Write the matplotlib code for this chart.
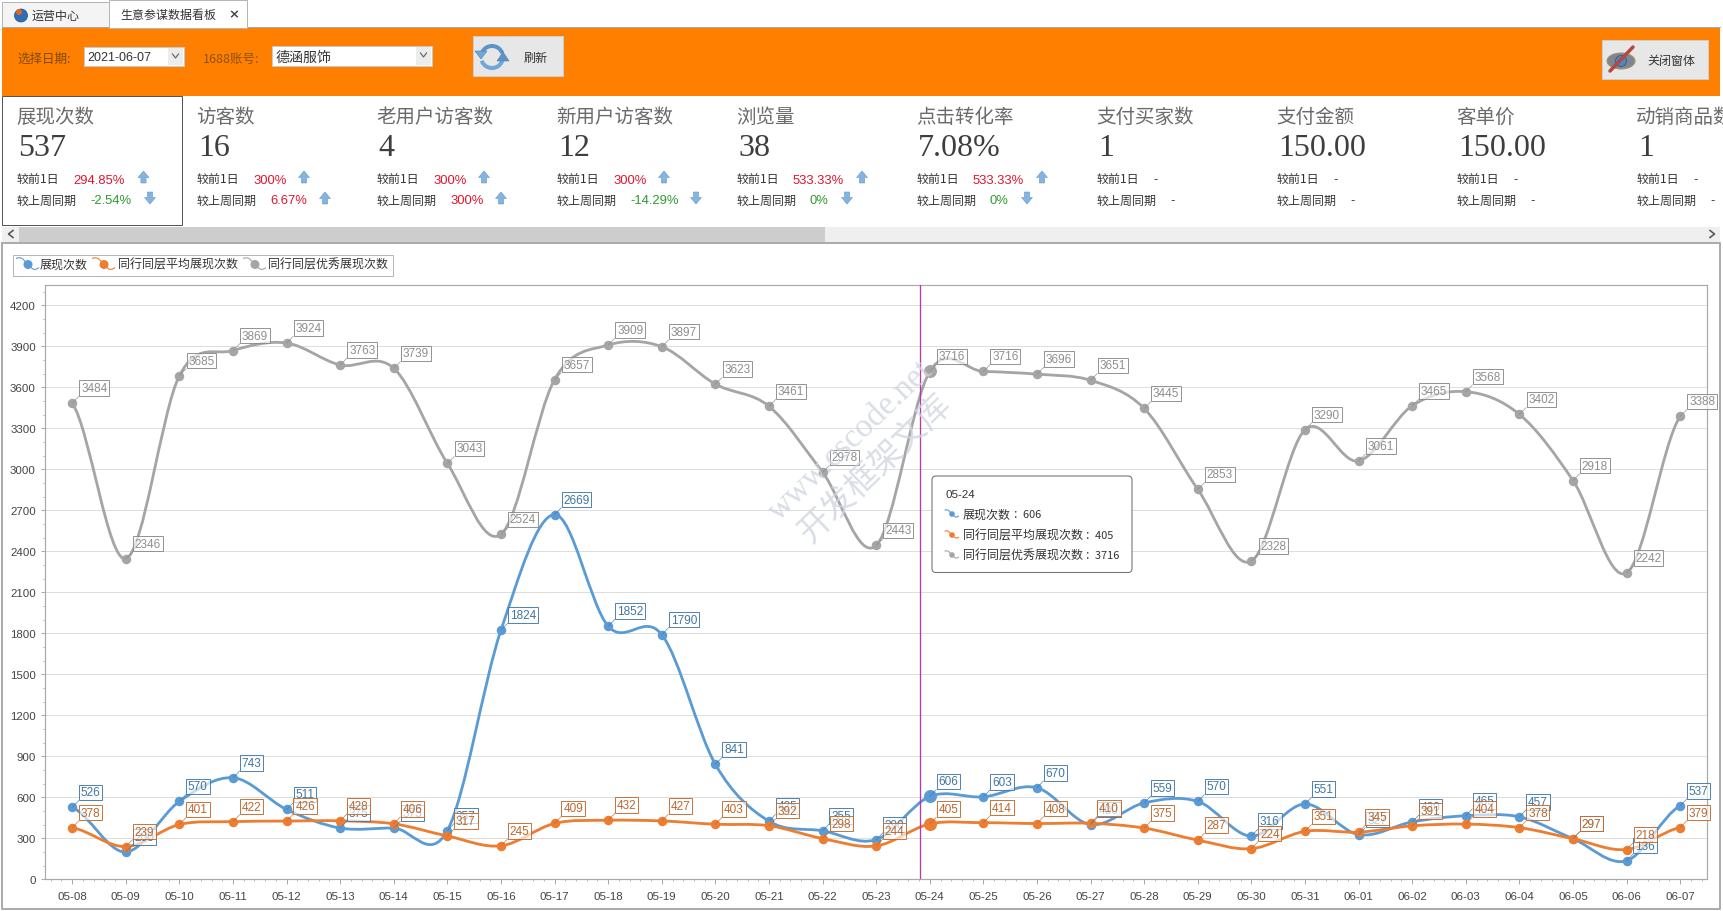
import numpy as np
import matplotlib
matplotlib.use("Agg")
import matplotlib.pyplot as plt
from matplotlib.patches import Rectangle, Polygon, PathPatch, FancyBboxPatch, Circle, Ellipse, Arc
from matplotlib.path import Path
from matplotlib.ticker import MultipleLocator

CJK = ['Noto Sans CJK SC', 'DejaVu Sans']
plt.rcParams['font.family'] = CJK

# ---------- data ----------
dates = ['05-08','05-09','05-10','05-11','05-12','05-13','05-14','05-15','05-16','05-17','05-18',
         '05-19','05-20','05-21','05-22','05-23','05-24','05-25','05-26','05-27','05-28','05-29',
         '05-30','05-31','06-01','06-02','06-03','06-04','06-05','06-06','06-07']
series_names = ['展现次数', '同行同层平均展现次数', '同行同层优秀展现次数']
shows = [526,200,570,743,511,375,375,357,1824,2669,1852,1790,841,425,355,290,606,603,670,400,
         559,570,316,551,327,420,465,457,297,136,537]
avg_shows = [378,239,401,422,426,428,406,317,245,409,432,427,403,392,298,244,405,414,408,410,
             375,287,224,351,345,391,404,378,297,218,379]
top_shows = [3484,2346,3685,3869,3924,3763,3739,3043,2524,3657,3909,3897,3623,3461,2978,2443,
             3716,3716,3696,3651,3445,2853,2328,3290,3061,3465,3568,3402,2918,2242,3388]
highlight_index = 16
crosshair_x = 15.82

tile_titles = ['展现次数','访客数','老用户访客数','新用户访客数','浏览量','点击转化率','支付买家数','支付金额','客单价','动销商品数']
tile_values = ['537','16','4','12','38','7.08%','1','150.00','150.00','1']
day_change = ['294.85%','300%','300%','300%','533.33%','533.33%','-','-','-','-']
week_change = ['-2.54%','6.67%','300%','-14.29%','0%','0%','-','-','-','-']
week_up = [False, True, True, False, False, False, None, None, None, None]
day_arrow_x = [143.5, 304, 484, 664, 862, 1042]
week_arrow_x = [150, 325, 501, 696, 847, 1027]

W, H = 1724, 912
BLUE, ORANGE, GRAY = '#5B9BD5', '#ED7D31', '#A5A5A5'
px = 0.72  # points per pixel at dpi 100

fig = plt.figure(figsize=(W/100, H/100), dpi=100, facecolor='white')

# ---------- window chrome ----------
ui = fig.add_axes([0, 0, 1, 1], zorder=0)
ui.set_xlim(0, W); ui.set_ylim(H, 0); ui.axis('off')

def rect(x0, y0, x1, y1, fc='none', ec='none', lw=1, z=1, ax=ui):
    r = Rectangle((x0, y0), x1-x0, y1-y0, facecolor=fc, edgecolor=ec, linewidth=lw*px, zorder=z)
    ax.add_patch(r)
    return r

def txt(x, y, s, size=12, color='#333333', ha='left', va='center', family=CJK, z=5, **kw):
    return ui.text(x, y, s, fontsize=size*px, color=color, ha=ha, va=va, family=family, zorder=z, **kw)

# tabs
rect(2, 3, 109, 28, fc='#F4F4F4', ec='#B5B5B5')
rect(109, 1, 247, 28.5, fc='white', ec='#B5B5B5', z=2)
ui.add_patch(Circle((21, 16.5), 6.5, fc='#2F6DB5', ec='#1F4F8F', lw=.5, zorder=3))
ui.add_patch(Circle((19, 13), 3, fc='#E0672A', ec='none', zorder=4))
txt(32, 16.5, '运营中心', 12, '#333333')
txt(120.5, 15.5, '生意参谋数据看板', 12, '#333333', z=6)
txt(234, 15, '×', 13, '#444444', ha='center', weight='bold', family=['DejaVu Sans'], z=6)

# orange toolbar
rect(2, 28, 1720, 96.5, fc='#FF8000', z=1)
ui.plot([2, 1720], [27.8, 27.8], color='#A8A8A8', lw=1*px, zorder=1.5)
txt(17.5, 59, '选择日期:', 12.5, '#7C4A05')
rect(84, 48, 184, 66.5, fc='white', ec='#C9C9C9')
txt(87.5, 58, '2021-06-07', 12.5, '#333333', family=['Liberation Sans'])
rect(168, 49, 183.5, 66, fc='#ECECEC')
ui.plot([172.5, 175.5, 178.5], [55, 59, 55], color='#666666', lw=1.2*px, zorder=6)
txt(203, 59, '1688账号:', 12.5, '#8A5208')
rect(272.5, 46.5, 432, 66.5, fc='white', ec='#C9C9C9')
txt(276, 58, '德涵服饰', 14, '#333333')
rect(416, 47.5, 431.5, 66, fc='#ECECEC')
ui.plot([420.5, 423.5, 426.5], [54, 58, 54], color='#666666', lw=1.2*px, zorder=6)

# refresh button
rect(473, 37, 563, 77, fc='#E7E7E7', ec='#CDCDCD')
for t1, t2, c in [(200, 340, '#5E93C9'), (20, 160, '#6FA8D8')]:
    ui.add_patch(Arc((492, 58), 22, 22, theta1=t1, theta2=t2, ec=c, lw=4*px, zorder=6))
ui.add_patch(Polygon([(475, 52), (487, 52), (481, 60)], fc='#6FA8D8', ec='#4E7FB0', lw=.4, zorder=7))
ui.add_patch(Polygon([(497, 62), (509, 62), (503, 53)], fc='#5E93C9', ec='#4E7FB0', lw=.4, zorder=7))
txt(536, 58, '刷新', 12, '#333333', ha='center')

# close button
rect(1602, 41, 1708, 80, fc='#E7E7E7', ec='#CDCDCD')
ui.add_patch(Ellipse((1621, 62), 28, 16, fc='#7B8794', ec='#A89060', lw=1*px, zorder=6))
ui.add_patch(Circle((1621, 62), 5.5, fc='#4E86BD', ec='#2F4F6F', lw=.5, zorder=7))
ui.plot([1610, 1633], [72, 48], color='#B5473F', lw=3.5*px, zorder=8, solid_capstyle='round')
txt(1671, 61, '关闭窗体', 12, '#333333', ha='center')

# metric tiles
rect(2.5, 97, 182, 225.5, fc='white', ec='#555555', z=2)
tile_x = [16 + 180*i for i in range(len(tile_titles))]
clip_box = Rectangle((0, 96), 1719, 130, transform=ui.transData)

def arrow(x, y, up):
    s = 1 if up else -1
    pts = [(x-5.5, y+s*0.5), (x, y-s*6), (x+5.5, y+s*0.5), (x+2.6, y+s*0.5), (x+2.6, y+s*6), (x-2.6, y+s*6), (x-2.6, y+s*0.5)]
    ui.add_patch(Polygon(pts, closed=True, fc='#85B4DE', ec='#5F93C6', lw=.5*px, zorder=6))

for i, tx in enumerate(tile_x):
    t = txt(tx, 117.5, tile_titles[i], 19.5, '#6B6B6B')
    t.set_clip_path(clip_box)
    txt(tx+2, 148.5, tile_values[i], 32, '#3E3E3E', family=['Liberation Serif'])
    txt(tx+1, 180.5, '较前1日', 12, '#333333')
    txt(tx+1, 201, '较上周同期', 12, '#333333')
    for dx, y, val in [(57, 180.5, day_change[i]), (74, 201, week_change[i])]:
        if val == '-':
            col = '#333333'
        elif y < 190:
            col = '#E2142D'
        else:
            col = '#E2142D' if week_up[i] else '#2E9A2E'
        txt(tx+dx, y, val, 13, col, family=['Liberation Sans'])
    if week_up[i] is not None:
        arrow(day_arrow_x[i], 178, True)
        arrow(week_arrow_x[i], 199, bool(week_up[i]))

# scrollbar
rect(2, 227.5, 1720, 242.5, fc='#EFEFEF')
rect(19, 227.5, 825, 242.5, fc='#CDCDCD', z=2)
ui.plot([13, 8.5, 13], [231.5, 235, 238.5], color='#555555', lw=1.6*px, zorder=5)
ui.plot([1710, 1714.5, 1710], [231.5, 235, 238.5], color='#555555', lw=1.6*px, zorder=5)

# chart panel frame
ui.plot([2, 1720, 1720, 2, 2], [243.5, 243.5, 910, 910, 243.5], color='#ABABAB', lw=2*px, zorder=3)
rect(13.5, 255.5, 393, 276.5, fc='white', ec='#B5B5B5')

def swatch(x, y, col, ax=ui, s=1.0):
    v = [(x-12*s, y-6*s), (x-5*s, y-9*s), (x-3*s, y-2*s), (x, y), (x+3*s, y+2*s), (x+5*s, y+8*s), (x+11*s, y+3*s)]
    c = [Path.MOVETO] + [Path.CURVE4]*6
    ax.add_patch(PathPatch(Path(v, c), fc='none', ec=col, lw=1.1*px, zorder=6))
    ax.add_patch(Circle((x, y), 4.5*s, fc=col, ec='none', zorder=7))

for sx, tx, col, name in zip([28, 104, 255], [40, 118, 268], [BLUE, ORANGE, GRAY], series_names):
    swatch(sx, 265.5, col)
    txt(tx, 265.5, name, 12, '#333333')

# ---------- chart ----------
x0, x1, y_top, y_bot = 45.4, 1707, 286, 880.3
ax = fig.add_axes([x0/W, 1-y_bot/H, (x1-x0)/W, (y_bot-y_top)/H], zorder=1)
ax.patch.set_alpha(0)
ax.set_xlim(-0.5, 30.5)
ax.set_ylim(0, (y_bot-y_top)/(574.0/4200))
for sp in ax.spines.values():
    sp.set_color('#A9A9A9'); sp.set_linewidth(1.2*px)
ax.yaxis.set_major_locator(MultipleLocator(300))
ax.yaxis.set_minor_locator(MultipleLocator(100))
ax.set_xticks(range(len(dates)))
ax.set_xticklabels(dates)
ax.xaxis.set_minor_locator(MultipleLocator(0.2))
ax.grid(axis='y', which='major', color='#DEDEDE', lw=1*px)
ax.set_axisbelow(True)
ax.tick_params(axis='both', which='major', length=4.5*px, width=.9*px, color='#A0A0A0',
               labelsize=11.5*px, labelcolor='#444444', pad=7*px)
ax.tick_params(axis='y', which='major', pad=5*px)
ax.tick_params(axis='both', which='minor', length=2.5*px, width=.8*px, color='#A8A8A8')
for lab in ax.get_xticklabels() + ax.get_yticklabels():
    lab.set_family(['Liberation Sans'])

def spline_path(vals):
    """Cardinal (Catmull-Rom) spline through the data points, as cubic Bezier segments."""
    p = np.asarray(vals, float)
    n = len(p)
    m = np.zeros(n)
    m[1:-1] = (p[2:] - p[:-2]) / 2
    m[0], m[-1] = (p[1]-p[0]) / 2, (p[-1]-p[-2]) / 2
    v, c = [(0, p[0])], [Path.MOVETO]
    for i in range(n-1):
        v += [(i+1/3, p[i]+m[i]/3), (i+2/3, p[i+1]-m[i+1]/3), (i+1, p[i+1])]
        c += [Path.CURVE4]*3
    return Path(v, c)

xs = np.arange(len(dates))
styles = [(shows, BLUE, '#3F78AD', '#41759F'), (avg_shows, ORANGE, '#C5682A', '#B9682F'), (top_shows, GRAY, '#8A8A8A', '#8E8E8E')]
for z, (vals, col, edge, tc) in enumerate(styles):
    ax.add_patch(PathPatch(spline_path(vals), fc='none', ec=col, lw=2.8*px, capstyle='round', zorder=3+z*0.1))
    ax.plot(xs, vals, ls='none', marker='o', ms=9.5*px, mfc=col, mec=col, mew=0, zorder=3.05+z*0.1)
    ax.plot([highlight_index], [vals[highlight_index]], ls='none', marker='o', ms=13*px, mfc=col, mew=0, zorder=3.06+z*0.1)

for z, (vals, col, edge, tc) in enumerate(styles):
    for i, v in enumerate(vals):
        s = str(v)
        dx = 7 + (11.5 if len(s) == 3 else 15)
        ax.annotate(s, (i, v), xytext=(dx, 15), textcoords='offset pixels', ha='center', va='center',
                    fontsize=11.8*px, color=tc, family=['Liberation Sans'], annotation_clip=False, zorder=5+z*0.1,
                    bbox=dict(boxstyle='square,pad=0.15', fc=(1, 1, 1, 0.65), ec=edge, lw=.9*px),
                    arrowprops=dict(arrowstyle='-', color=edge, lw=.6*px, shrinkA=0, shrinkB=0, relpos=(0, 0)))

ax.axvline(crosshair_x, color='#B03AAE', lw=1.3*px, zorder=4)

# ---------- watermark ----------
fig.text(851/W, 1-441/H, 'www.cscode.net', fontsize=33*px, color='#D0D5E0', rotation=44, ha='center', va='center',
         family=['Liberation Serif'], alpha=.8, zorder=2)
fig.text(875/W, 1-468/H, '开发框架文库', fontsize=33*px, color='#D0D5E0', rotation=44, ha='center', va='center',
         family=CJK, alpha=.8, zorder=2)

# ---------- tooltip ----------
top = fig.add_axes([0, 0, 1, 1], zorder=3)
top.set_xlim(0, W); top.set_ylim(H, 0); top.axis('off'); top.patch.set_alpha(0)
top.add_patch(FancyBboxPatch((935, 480), 194, 90.5, boxstyle='round,pad=3,rounding_size=4', fc='white', ec='#777777', lw=1.1*px, zorder=2))
top.text(946, 495, dates[highlight_index], fontsize=11.5*px, color='#333333', va='center', family=['Liberation Sans'], zorder=3)
for yy, col, name, vals in zip([515, 536, 556], [BLUE, ORANGE, GRAY], series_names, [shows, avg_shows, top_shows]):
    swatch(952, yy, col, ax=top, s=.62)
    top.text(963, yy, name, fontsize=12*px, color='#333333', va='center', family=CJK, zorder=3)
    top.text(963 + 12*len(name) + 1, yy, '：' + str(vals[highlight_index]), fontsize=11*px, color='#333333', va='center', family=CJK, zorder=3)

fig.savefig('out.png', dpi=100, facecolor='white')
